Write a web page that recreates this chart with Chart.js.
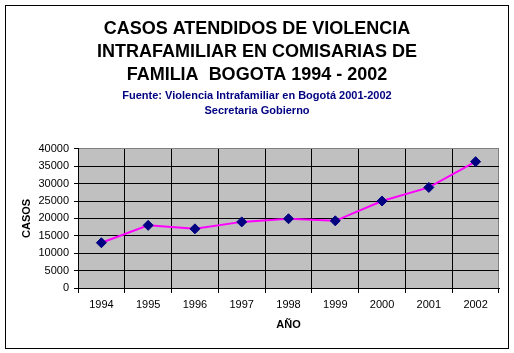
<!DOCTYPE html>
<html lang="es">
<head>
    <meta charset="UTF-8">
    <title>Casos violencia intrafamiliar</title>
    <script src="https://cdn.jsdelivr.net/npm/chart.js"></script>
    <style>
        body { margin: 0; background: #fff; }
    </style>
</head>
<body>
    <canvas id="casosChart" width="514" height="353"></canvas>

    <script>
        // datos
        const anios = ['1994', '1995', '1996', '1997', '1998', '1999', '2000', '2001', '2002'];
        const casos = [13000, 18000, 17000, 19000, 19900, 19300, 25000, 28900, 36300];
        const tituloLineas = ['CASOS ATENDIDOS DE VIOLENCIA', 'INTRAFAMILIAR EN COMISARIAS DE', 'FAMILIA  BOGOTA 1994 - 2002'];
        const subtituloLineas = ['Fuente: Violencia Intrafamiliar en Bogotá 2001-2002', 'Secretaria Gobierno'];
        const yMin = 0, yMax = 40000, yPaso = 5000;

        const fuente = "'Liberation Sans', Arial, sans-serif";

        // fondo gris del area de trazado y marco exterior
        const fondoYMarco = {
            id: 'fondoYMarco',
            beforeDraw(chart) {
                const {ctx, chartArea: a} = chart;
                ctx.save();
                ctx.fillStyle = '#c0c0c0';
                ctx.fillRect(a.left, a.top, a.right - a.left, a.bottom - a.top);
                ctx.restore();
            },
            afterDraw(chart) {
                const ctx = chart.ctx;
                ctx.save();
                ctx.strokeStyle = '#000';
                ctx.lineWidth = 1;
                ctx.strokeRect(5.5, 5.5, 503, 343);
                ctx.restore();
            }
        };

        const ctx = document.getElementById('casosChart').getContext('2d');
        const casosChart = new Chart(ctx, {
            type: 'line',
            data: {
                labels: anios,
                datasets: [{
                    label: 'Casos',
                    data: casos,
                    borderColor: '#ff00ff',
                    borderWidth: 2,
                    tension: 0,
                    pointStyle: 'rectRot',
                    pointRadius: 5,
                    pointBackgroundColor: '#000080',
                    pointBorderColor: '#000080',
                    pointBorderWidth: 1
                }]
            },
            options: {
                responsive: false,
                animation: false,
                layout: { padding: { left: 15, right: 15, top: 0, bottom: 10 } },
                plugins: {
                    legend: { display: false },
                    tooltip: { enabled: false },
                    title: {
                        display: true,
                        text: tituloLineas,
                        color: '#000',
                        font: { family: fuente, size: 18, weight: 'bold', lineHeight: 1.3 },
                        padding: { top: 17, bottom: 0 }
                    },
                    subtitle: {
                        display: true,
                        text: subtituloLineas,
                        color: '#000080',
                        font: { family: fuente, size: 11, weight: 'bold', lineHeight: 1.3 },
                        padding: { top: 2, bottom: 31 }
                    }
                },
                scales: {
                    x: {
                        offset: true,
                        afterFit(scale) { scale.height = 55; },
                        grid: {
                            offset: true,
                            color: c => c.index === undefined ? '#808080' : '#000',
                            tickColor: '#000',
                            tickLength: 5,
                            lineWidth: 1
                        },
                        border: { color: '#000' },
                        ticks: {
                            color: '#000',
                            padding: 5,
                            maxRotation: 0,
                            font: { family: fuente, size: 11 }
                        },
                        title: {
                            display: true,
                            text: 'AÑO',
                            color: '#000',
                            font: { family: fuente, size: 11, weight: 'bold' },
                            padding: { top: 7, bottom: 11 }
                        }
                    },
                    y: {
                        min: yMin,
                        max: yMax,
                        afterFit(scale) { scale.width = 63; },
                        grid: {
                            color: c => c.tick && c.tick.value === yMax ? '#808080' : '#000',
                            tickColor: '#000',
                            tickLength: 4
                        },
                        border: { color: '#000' },
                        ticks: {
                            stepSize: yPaso,
                            color: '#000',
                            padding: 5,
                            font: { family: fuente, size: 11 },
                            callback: v => v
                        },
                        title: {
                            display: true,
                            text: 'CASOS',
                            color: '#000',
                            font: { family: fuente, size: 11, weight: 'bold' },
                            padding: { top: 5, bottom: 0 }
                        }
                    }
                }
            },
            plugins: [fondoYMarco]
        });
    </script>
</body>
</html>
